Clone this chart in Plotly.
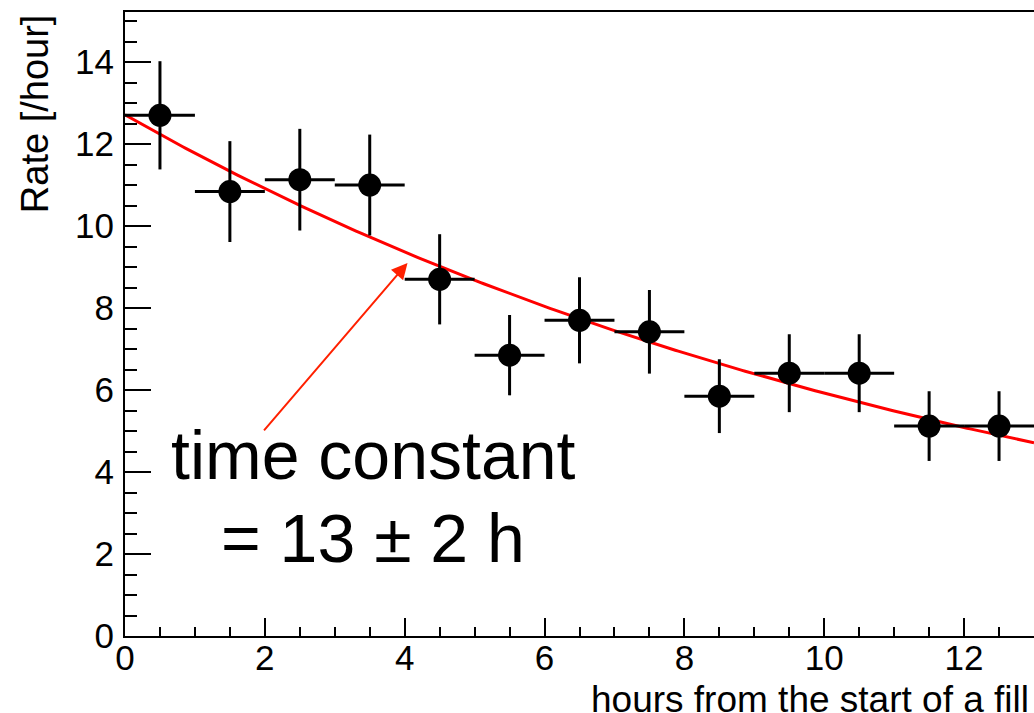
import numpy as np
import plotly.graph_objects as go

# Data
hours = [0.5, 1.5, 2.5, 3.5, 4.5, 5.5, 6.5, 7.5, 8.5, 9.5, 10.5, 11.5, 12.5]
rate = [12.70, 10.84, 11.13, 11.00, 8.70, 6.85, 7.70, 7.42, 5.85, 6.41, 6.41, 5.12, 5.12]
rate_err = [1.32, 1.23, 1.24, 1.23, 1.10, 0.98, 1.05, 1.02, 0.90, 0.95, 0.95, 0.85, 0.85]
bin_half_width = [0.5] * 13

# Exponential fit parameters
fit_A = 12.71
fit_tau = 13.1

x_fit = np.linspace(0, 13, 300)
y_fit = fit_A * np.exp(-x_fit / fit_tau)

FONT = "Liberation Sans, Arial, Helvetica, sans-serif"

fig = go.Figure()
fig.add_trace(go.Scatter(
    x=x_fit, y=y_fit, mode="lines",
    line=dict(color="#ff0000", width=3), hoverinfo="skip", showlegend=False))
fig.add_trace(go.Scatter(
    x=hours, y=rate, mode="markers",
    marker=dict(color="black", size=23, symbol="circle"),
    error_x=dict(type="data", array=bin_half_width, color="black", thickness=3, width=0),
    error_y=dict(type="data", array=rate_err, color="black", thickness=3, width=0),
    showlegend=False))

fig.update_layout(
    width=1034, height=713,
    margin=dict(l=125, r=0, t=12, b=77),
    paper_bgcolor="white", plot_bgcolor="white",
    font=dict(family=FONT, size=35, color="black"),
    xaxis=dict(range=[0, 13], showgrid=False, zeroline=False,
               showline=True, linecolor="black", linewidth=2, mirror=True,
               ticks="inside", ticklen=18, tickwidth=2, tickcolor="black",
               tick0=0, dtick=2, ticklabelstandoff=-10,
               minor=dict(ticks="inside", ticklen=9, tickwidth=2, tickcolor="black", dtick=0.5),
               tickfont=dict(size=35)),
    yaxis=dict(range=[0, 15.22], showgrid=False, zeroline=False,
               showline=True, linecolor="black", linewidth=2,
               ticks="inside", ticklen=26, tickwidth=2, tickcolor="black",
               tick0=0, dtick=2, ticklabelstandoff=2,
               minor=dict(ticks="inside", ticklen=12, tickwidth=2, tickcolor="black", dtick=0.5),
               tickfont=dict(size=35)),
)

fig.add_annotation(text="hours from the start of a fill", xref="paper", yref="paper",
                   x=0.997, y=-0.101, xanchor="right", yanchor="middle", showarrow=False,
                   font=dict(size=37))
fig.add_annotation(text="Rate [/hour]", xref="paper", yref="paper",
                   x=-0.099, y=0.999, xanchor="center", yanchor="top", textangle=-90,
                   showarrow=False, font=dict(size=38))

fig.add_annotation(text="time constant", x=3.56, y=4.41, xref="x", yref="y",
                   xanchor="center", yanchor="middle", showarrow=False, font=dict(size=68))
fig.add_annotation(text="= 13 ± 2 h", x=3.54, y=2.39, xref="x", yref="y",
                   xanchor="center", yanchor="middle", showarrow=False, font=dict(size=68))

fig.add_annotation(x=4.04, y=9.10, ax=1.97, ay=4.98, xref="x", yref="y", axref="x", ayref="y",
                   text="", showarrow=True, arrowhead=2, arrowsize=1.6, arrowwidth=2,
                   arrowcolor="#ff2000")

fig.write_html("out.html", config={"displayModeBar": False},
               post_script="document.body.style.margin='0';document.body.style.overflow='hidden';")
